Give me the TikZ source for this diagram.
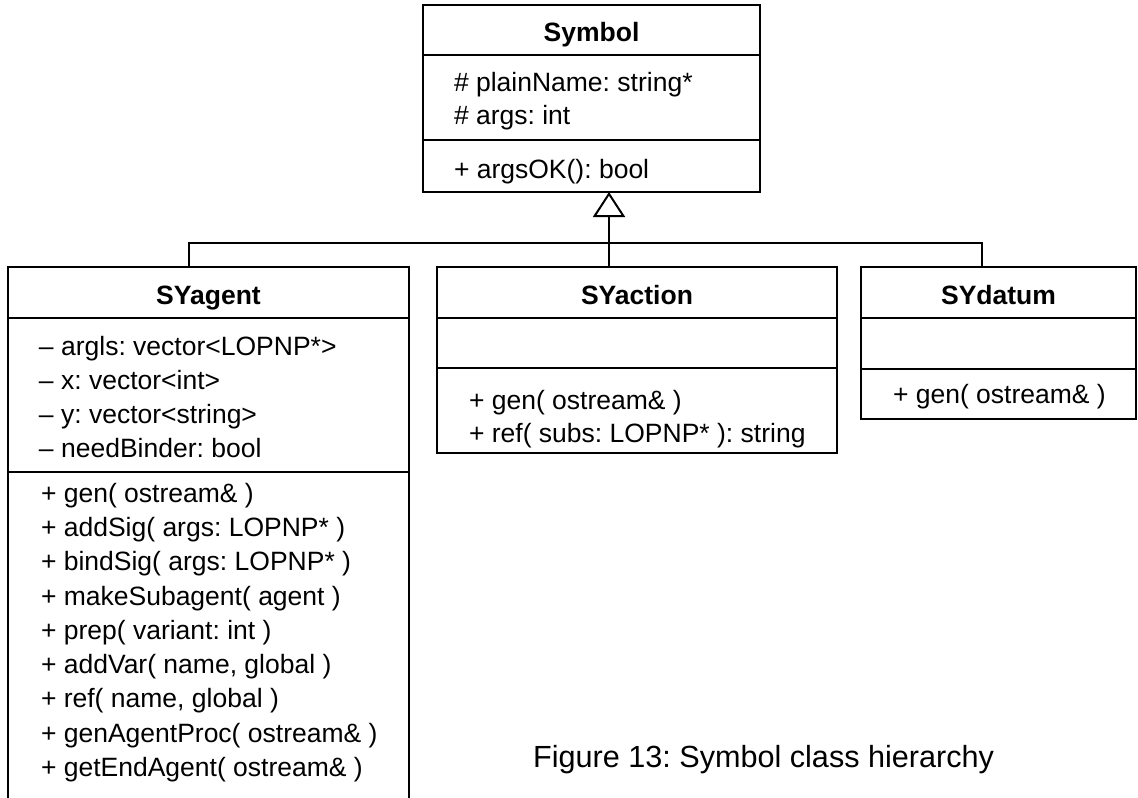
\documentclass[tikz,border=0pt]{standalone}
\usepackage{fontspec}
\setmainfont{Liberation Sans}
\usetikzlibrary{arrows.meta,positioning}
\frenchspacing

\begin{document}
\begin{tikzpicture}[x=0.5pt,y=-0.5pt,line width=1pt,
    member/.style={anchor=base west,font=\fontsize{13.25}{16}\selectfont},
    classname/.style={anchor=base,font=\fontsize{13.25}{16}\selectfont\bfseries}]
                    \tikzstyle{every node}+=[inner sep=0pt]
                    \useasboundingbox (0,0) rectangle (1138,797);
                    \clip (0,0) rectangle (1138,797);
                    % Symbol
                    \draw (423,5) rectangle (760,192);
                    \draw (423,55) -- (760,55);
                    \draw (423,140) -- (760,140);
                    \node[classname] (symbolName) at (591.5,42) {Symbol};
                    \node[member] (symbolAttrA) at (453,91) {\# plainName: string*};
                    \node[member] (symbolAttrB) at (453,125) {\# args: int};
                    \node[member] (symbolOpA) at (453,178) {+ argsOK(): bool};
                    % SYagent (runs off the bottom)
                    \draw (8,830) -- (8,267) -- (409,267) -- (409,830);
                    \draw (8,318) -- (409,318);
                    \draw (8,472) -- (409,472);
                    \node[classname] (agentName) at (208.5,304) {SYagent};
                    \node[member] (agentAttrA) at (38,355) {-- argls: vector<LOPNP*>};
                    \node[member] (agentAttrB) at (38,389) {-- x: vector<int>};
                    \node[member] (agentAttrC) at (38,423) {-- y: vector<string>};
                    \node[member] (agentAttrD) at (38,457) {-- needBinder: bool};
                    \node[member] (agentOpA) at (40,502) {+ gen( ostream\& )};
                    \node[member] (agentOpB) at (40,536) {+ addSig( args: LOPNP* )};
                    \node[member] (agentOpC) at (40,570) {+ bindSig( args: LOPNP* )};
                    \node[member] (agentOpD) at (40,605) {+ makeSubagent( agent )};
                    \node[member] (agentOpE) at (40,639) {+ prep( variant: int )};
                    \node[member] (agentOpF) at (40,673) {+ addVar( name, global )};
                    \node[member] (agentOpG) at (40,707) {+ ref( name, global )};
                    \node[member] (agentOpH) at (40,742) {+ genAgentProc( ostream\& )};
                    \node[member] (agentOpI) at (40,776) {+ getEndAgent( ostream\& )};
                    % SYaction
                    \draw (437,267) rectangle (837,453);
                    \draw (437,318) -- (837,318);
                    \draw (437,368) -- (837,368);
                    \node[classname] (actionName) at (637,304) {SYaction};
                    \node[member] (actionOpA) at (468,409) {+ gen( ostream\& )};
                    \node[member] (actionOpB) at (468,442) {+ ref( subs: LOPNP* ): string};
                    % SYdatum
                    \draw (861,267) rectangle (1136,419);
                    \draw (861,318) -- (1136,318);
                    \draw (861,369) -- (1136,369);
                    \node[classname] (datumName) at (998.5,304) {SYdatum};
                    \node[member] (datumOpA) at (892,403) {+ gen( ostream\& )};
                    % inheritance
                    \coordinate (symbolTip) at (609,192);
                    \coordinate (agentTop) at (189,267);
                    \coordinate (actionTop) at (609,267);
                    \coordinate (datumTop) at (982,267);
                    \draw (agentTop) -- ++(0,-24) -| (datumTop);
                    \draw [-{Triangle[open,length=12.5pt,width=16pt]}] (actionTop) -- (symbolTip);
                    \node[anchor=base east,font=\fontsize{15.3}{18}\selectfont] (caption) at (995,767) {Figure 13: Symbol class hierarchy};
                \end{tikzpicture}
\end{document}
